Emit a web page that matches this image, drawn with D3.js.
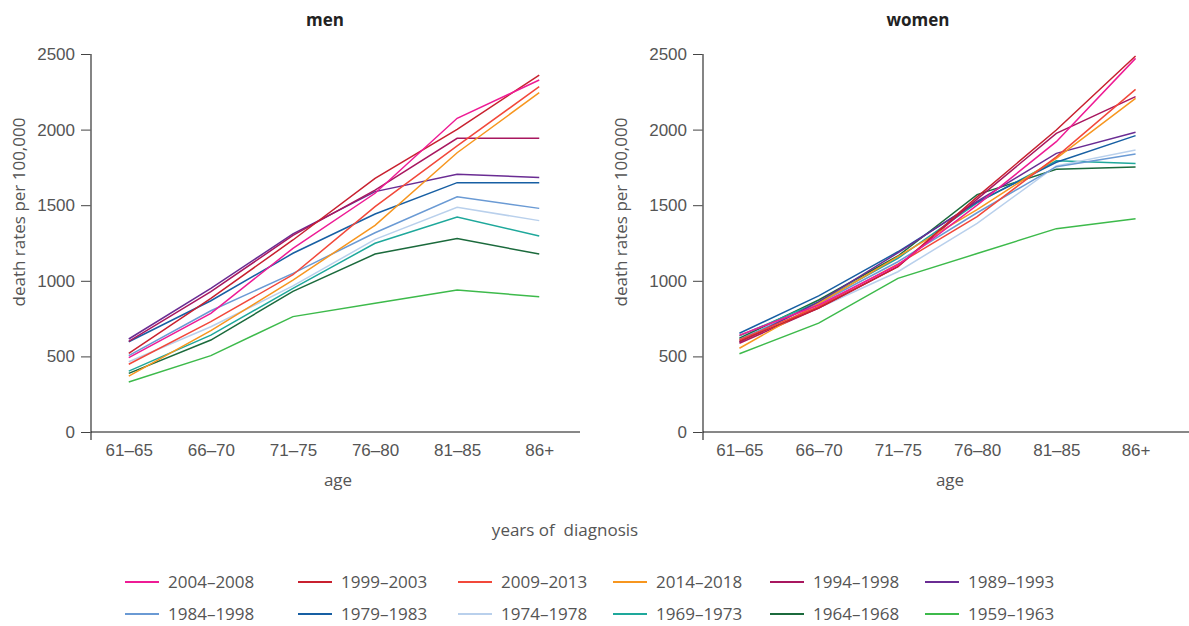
<!DOCTYPE html>
<html>
<head>
<meta charset="utf-8">
<script src="https://cdn.jsdelivr.net/npm/d3@7"></script>
<style>
  body { margin: 0; background: #fff; }
  svg { font-family: 'Open Sans', 'Noto Sans', sans-serif; }
  .tick text { fill: #555; font-size: 17px; }
</style>
</head>
<body>
<div id="chart"></div>
<script>
// age groups on the x axis
const ages = ['61–65', '66–70', '71–75', '76–80', '81–85', '86+'];
const yTicks = [0, 500, 1000, 1500, 2000, 2500];

// diagnosis periods, in legend order
const periods = ['2004–2008', '1999–2003', '2009–2013', '2014–2018', '1994–1998', '1989–1993',
                 '1984–1998', '1979–1983', '1974–1978', '1969–1973', '1964–1968', '1959–1963'];
const colors = ['#ee1b95', '#c8202f', '#f2483a', '#f7961f', '#a8175f', '#6a2c93',
                '#6a9ad4', '#175fa3', '#b9d0ec', '#1ea89b', '#1b6a3c', '#3dba4b'];

// death rates per 100,000, men (same order as periods)
const men = [
  [492, 785, 1215, 1579, 2075, 2328],
  [520, 884, 1270, 1678, 2002, 2361],
  [448, 730, 1040, 1490, 1892, 2284],
  [370, 670, 1005, 1367, 1847, 2244],
  [600, 928, 1300, 1600, 1942, 1942],
  [615, 950, 1310, 1590, 1704, 1684],
  [505, 802, 1049, 1318, 1556, 1479],
  [597, 868, 1182, 1442, 1649, 1649],
  [465, 696, 966, 1274, 1486, 1398],
  [403, 641, 950, 1248, 1422, 1296],
  [388, 608, 930, 1177, 1279, 1177],
  [331, 505, 763, 851, 939, 895]
];

// death rates per 100,000, women
const women = [
  [640, 840, 1104, 1500, 1920, 2471],
  [600, 820, 1093, 1555, 1997, 2487],
  [610, 830, 1110, 1425, 1820, 2266],
  [554, 850, 1160, 1470, 1810, 2207],
  [587, 820, 1093, 1540, 1975, 2218],
  [595, 860, 1185, 1525, 1843, 1982],
  [613, 850, 1126, 1450, 1755, 1839],
  [653, 900, 1192, 1520, 1784, 1960],
  [597, 820, 1060, 1380, 1760, 1865],
  [636, 860, 1149, 1515, 1794, 1775],
  [620, 873, 1164, 1570, 1737, 1753],
  [518, 720, 1016, 1180, 1345, 1411]
];

const width = 1189, height = 626;
const svg = d3.select('#chart').append('svg')
    .attr('width', width)
    .attr('height', height);

const y = d3.scaleLinear().domain([0, 2500]).range([432, 54]);

function panel(title, data, axisX, rangeEnd, axisEnd, titleX, labelX, ageX) {
    const x = d3.scalePoint().domain(ages).range([axisX, rangeEnd]).padding(0.46);
    const g = svg.append('g');

    // y axis
    const ya = g.append('g')
        .attr('transform', `translate(${axisX},0)`)
        .call(d3.axisLeft(y).tickValues(yTicks).tickFormat(d3.format('d'))
            .tickSize(10).tickPadding(6));
    ya.select('.domain').remove();
    ya.selectAll('.tick line').attr('stroke', '#444');
    g.append('line')
        .attr('x1', axisX).attr('x2', axisX)
        .attr('y1', y(2500)).attr('y2', y(0) + 8)
        .attr('stroke', '#666').attr('stroke-width', 1.6);

    // x axis
    const xa = g.append('g')
        .attr('transform', `translate(0,${y(0)})`)
        .call(d3.axisBottom(x).tickSize(0).tickPadding(12));
    xa.select('.domain').remove();
    g.append('line')
        .attr('x1', axisX).attr('x2', axisEnd)
        .attr('y1', y(0)).attr('y2', y(0))
        .attr('stroke', '#111').attr('stroke-width', 1);

    const line = d3.line().x((d, i) => x(ages[i])).y(d => y(d));
    g.selectAll('path.series')
        .data(data.map((v, i) => ({ v, i })).reverse())
        .enter().append('path')
        .attr('class', 'series')
        .attr('fill', 'none')
        .attr('stroke', d => colors[d.i])
        .attr('stroke-width', 1.5)
        .attr('d', d => line(d.v));

    g.append('text')
        .attr('x', titleX).attr('y', 26)
        .attr('text-anchor', 'middle')
        .attr('font-size', 17).attr('font-weight', 'bold')
        .attr('fill', '#222')
        .text(title);

    g.append('text')
        .attr('transform', `translate(${labelX},212) rotate(-90)`)
        .attr('text-anchor', 'middle')
        .attr('font-size', 17).attr('fill', '#555')
        .text('death rates per 100,000');

    g.append('text')
        .attr('x', ageX).attr('y', 486)
        .attr('text-anchor', 'middle')
        .attr('font-size', 17).attr('fill', '#555')
        .text('age');
}

panel('men', men, 91, 577, 580, 325, 25, 338);
panel('women', women, 703, 1172, 1189, 918, 627, 950);

svg.append('text')
    .attr('x', 565).attr('y', 536)
    .attr('text-anchor', 'middle')
    .attr('font-size', 17).attr('fill', '#555')
    .style('white-space', 'pre')
    .text('years of  diagnosis');

// legend: two rows of six
const colLine = [125, 298, 458, 613, 770, 925];
const legend = svg.append('g');
periods.forEach((p, i) => {
    const col = i % 6, row = Math.floor(i / 6);
    const ly = 582 + row * 32;
    legend.append('line')
        .attr('x1', colLine[col]).attr('x2', colLine[col] + 34)
        .attr('y1', ly).attr('y2', ly)
        .attr('stroke', colors[i]).attr('stroke-width', 2);
    legend.append('text')
        .attr('x', colLine[col] + 43).attr('y', ly + 6)
        .attr('font-size', 17).attr('fill', '#555')
        .text(p);
});
</script>
</body>
</html>
